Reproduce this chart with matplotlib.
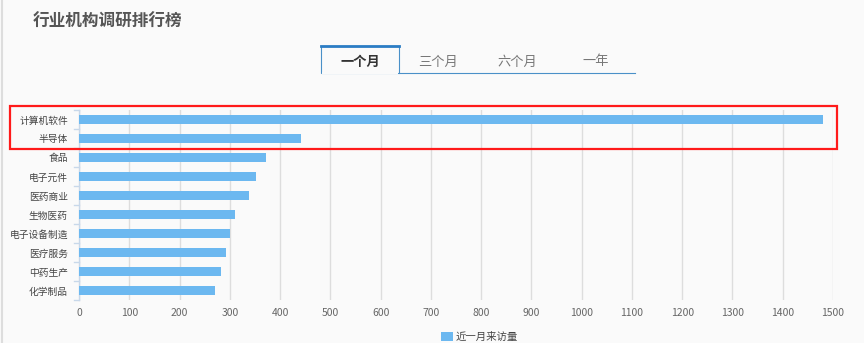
import matplotlib
matplotlib.use("Agg")
import matplotlib.pyplot as plt
from matplotlib.patches import Rectangle
from matplotlib.lines import Line2D
from matplotlib.transforms import blended_transform_factory, ScaledTranslation

plt.rcParams['font.family'] = ['Noto Sans CJK SC', 'DejaVu Sans']

categories = ["计算机软件", "半导体", "食品", "电子元件", "医药商业", "生物医药",
              "电子设备制造", "医疗服务", "中药生产", "化学制品"]
values = [1480, 442, 373, 352, 338, 310, 300, 293, 282, 270]
xticks = list(range(0, 1501, 100))
tabs = ["一个月", "三个月", "六个月", "一年"]
title = "行业机构调研排行榜"
legend_label = "近一月来访量"

W, H = 864, 343
fig = plt.figure(figsize=(W / 100, H / 100), dpi=100, facecolor="#fafafa")

def fx(px):
    return px / W

def fy(py):
    return 1 - py / H

ax = fig.add_axes([fx(79), fy(300), fx(833) - fx(79), fy(110) - fy(300)])
ax.set_facecolor("#fafafa")
n = len(categories)
ypos = list(range(n))
ax.barh(ypos, values, height=0.45, color="#6cb8f0", zorder=3)
ax.set_ylim(n - 0.5, -0.5)
ax.set_xlim(0, 1500)
ax.set_xticks(xticks)
ax.set_xticklabels([str(t) for t in xticks], fontsize=7.5, color="#666666")
ax.set_yticks(ypos)
ax.set_yticklabels(categories, fontsize=7, color="#444444")
ax.tick_params(axis="y", length=0, pad=8)
ax.tick_params(axis="x", length=0, pad=6)
ax.grid(axis="x", color="#dddddd", linewidth=1, zorder=0)
for s in ["top", "right", "bottom"]:
    ax.spines[s].set_visible(False)
ax.spines["left"].set_color("#c8d8ea")
ax.spines["left"].set_linewidth(1)
# category boundary ticks on y-axis
trans = blended_transform_factory(ax.transAxes, ax.transData)
for b in [i - 0.5 for i in range(n + 1)]:
    ax.plot([-5 / (833 - 79), 0], [b, b], color="#c8d8ea", lw=1, clip_on=False,
            transform=trans)

# title
fig.text(fx(33), fy(22), title, fontsize=12, fontweight="bold", color="#555555",
         va="center", ha="left")

# left border line
fig.add_artist(Line2D([fx(2), fx(2)], [0, 1], color="#dddddd", lw=1.5))

# tabs
fig.add_artist(Rectangle((fx(321), fy(73)), fx(399) - fx(321), fy(46) - fy(73),
                         facecolor="#fafafa", edgecolor="#4a90c8", lw=0.8))
fig.add_artist(Line2D([fx(321), fx(399)], [fy(46), fy(46)], color="#2b7cc4", lw=2))
fig.add_artist(Line2D([fx(399), fx(635)], [fy(73), fy(73)], color="#4a90c8", lw=0.8))
fig.add_artist(Rectangle((fx(322), fy(73.5)), fx(398) - fx(322), 1.5 / H,
                         facecolor="#fafafa", edgecolor="none"))
tab_x = [360, 438, 517, 596]
for i, (t, x) in enumerate(zip(tabs, tab_x)):
    fig.text(fx(x), fy(62), t, fontsize=9.5, ha="center", va="center",
             color="#333333" if i == 0 else "#777777",
             fontweight="bold" if i == 0 else "normal")

# red highlight box
fig.add_artist(Rectangle((fx(10), fy(149)), fx(837) - fx(10), fy(106) - fy(149),
                         facecolor="none", edgecolor="#ff1a1a", lw=1.6))

# legend
fig.add_artist(Rectangle((fx(441), fy(341)), 12 / W, 9 / H, facecolor="#6cb8f0",
                         edgecolor="none"))
fig.text(fx(456), fy(336.5), legend_label, fontsize=7.5, color="#444444",
         ha="left", va="center")

fig.savefig("out.png", dpi=100, facecolor=fig.get_facecolor())
